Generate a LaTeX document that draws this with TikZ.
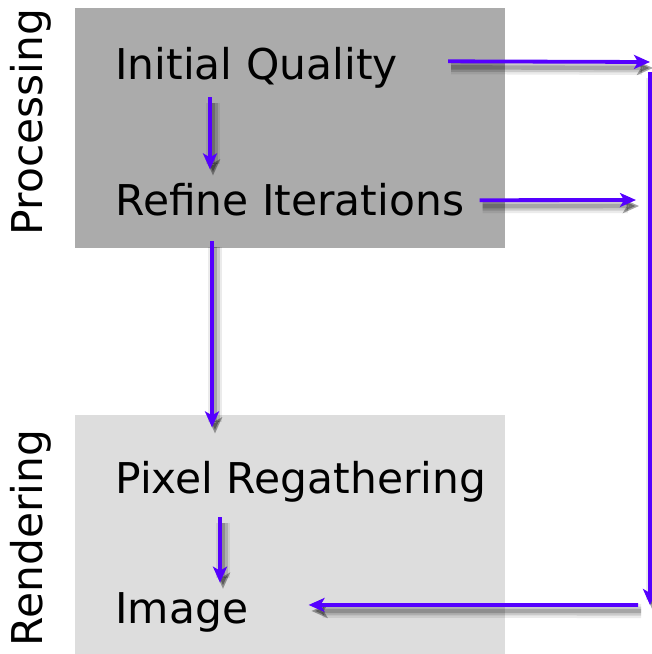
\documentclass[tikz,border=0pt]{standalone}
\usepackage{fontspec}
\setmainfont{DejaVu Sans}
\usepackage{xcolor}
\usetikzlibrary{arrows.meta,positioning,calc}
\definecolor{flowblue}{HTML}{5500FF}
\definecolor{procgray}{HTML}{ABABAB}
\definecolor{rendgray}{HTML}{DDDDDD}
\tikzset{
  every node/.style={font=\fontsize{21.2}{25}\selectfont,text=black,inner sep=0pt},
  steptext/.style={anchor=base west},
  sidelabel/.style={rotate=90,anchor=base},
  flow/.style={-{Stealth[length=8pt,width=7pt,inset=2pt]},line width=1.9pt,draw=flowblue,
    preaction={draw=black,opacity=0.08,line width=7pt,transform canvas={shift={(1.5pt,-3pt)}}},
    preaction={draw=black,opacity=0.14,line width=4.5pt,transform canvas={shift={(1.5pt,-3pt)}}},
    preaction={draw=black,opacity=0.18,line width=2.2pt,transform canvas={shift={(1.5pt,-3pt)}}}}
}
\begin{document}
\begin{tikzpicture}[x=0.5pt,y=-0.5pt]
  \useasboundingbox (0,0) rectangle (652,654);
  % stages
  \fill[procgray] (75,8) rectangle (505,248);
  \fill[rendgray] (75,415) rectangle (505,654);
  \node[sidelabel] (proclabel) at (42,122) {Processing};
  \node[sidelabel] (rendlabel) at (42,538) {Rendering};

  \node[steptext] (init) at (115,79) {Initial Quality};
  \node[steptext] (refine) at (115,215) {Refine Iterations};
  \node[steptext] (regather) at (115,493) {Pixel Regathering};
  \node[steptext] (image) at (115,623) {Image};

  % right-hand rail
  \coordinate (topend) at (650,62);
  \coordinate (midend) at (636,200);
  \coordinate (railtop) at (650,72);
  \coordinate (railbot) at (650,605);
  \coordinate (railout) at (638,605);

  \draw[flow] ([shift={(95,9)}]init.south west) -- ([shift={(95,-13)}]refine.north west);
  \draw[flow] ([shift={(97,25)}]refine.south west) -- ([shift={(97,-33)}]regather.north west);
  \draw[flow] ([shift={(105,15)}]regather.south west) -- ([shift={(105,-9)}]image.north west);
  \draw[flow] ([shift={(50,-6)}]init.east) -- (topend);
  \draw[flow] ([shift={(15,1)}]refine.east) -- (midend);
  \draw[flow] (railtop) -- (railbot);
  \draw[flow] (railout) -- ([shift={(60,-7)}]image.east);
\end{tikzpicture}
\end{document}
